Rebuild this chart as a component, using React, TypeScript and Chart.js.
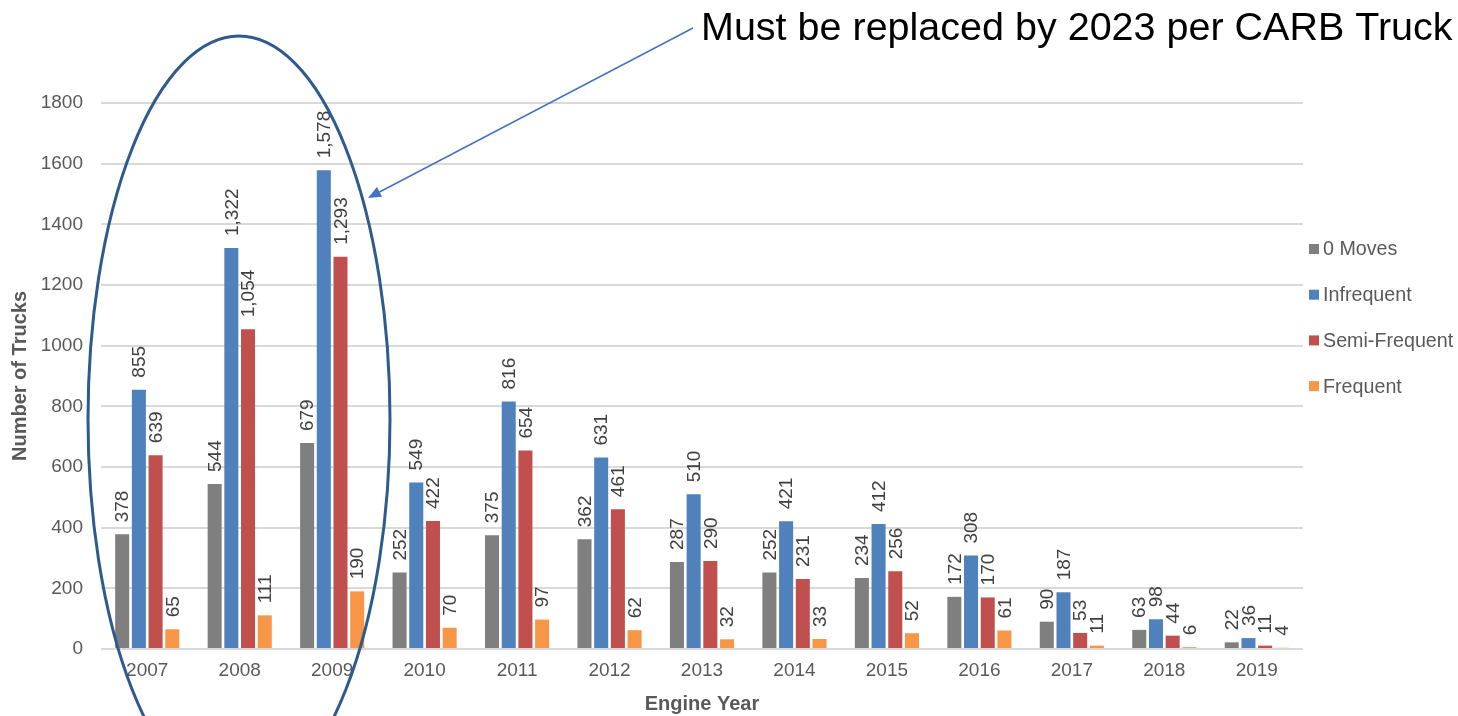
import React, { useEffect, useRef } from "react";
import { Chart, registerables } from "chart.js";

Chart.register(...registerables);

// Engine model years on the x axis
const years = ["2007", "2008", "2009", "2010", "2011", "2012", "2013", "2014", "2015", "2016", "2017", "2018", "2019"];

// Truck counts per visit-frequency group
const zeroMoves = [378, 544, 679, 252, 375, 362, 287, 252, 234, 172, 90, 63, 22];
const infrequent = [855, 1322, 1578, 549, 816, 631, 510, 421, 412, 308, 187, 98, 36];
const semiFrequent = [639, 1054, 1293, 422, 654, 461, 290, 231, 256, 170, 53, 44, 11];
const frequent = [65, 111, 190, 70, 97, 62, 32, 33, 52, 61, 11, 6, 4];

const seriesNames = ["0 Moves", "Infrequent", "Semi-Frequent", "Frequent"];
const seriesColors = ["#7F7F7F", "#4F81BD", "#C0504D", "#F79646"];

const yTicks = [0, 200, 400, 600, 800, 1000, 1200, 1400, 1600, 1800];

const calloutText = "Must be replaced by 2023 per CARB Truck";

const FONT = '"Liberation Sans", Arial, Helvetica, sans-serif';

// Rotated value labels above every bar
const barValueLabels = {
  id: "barValueLabels",
  afterDatasetsDraw(chart: any) {
    const ctx = chart.ctx;
    ctx.save();
    ctx.font = `19px ${FONT}`;
    ctx.fillStyle = "#404040";
    ctx.textAlign = "left";
    ctx.textBaseline = "middle";
    chart.data.datasets.forEach((ds: any, di: number) => {
      const meta = chart.getDatasetMeta(di);
      meta.data.forEach((bar: any, i: number) => {
        const v = ds.data[i] as number;
        ctx.save();
        ctx.translate(bar.x, bar.y - 12);
        ctx.rotate(-Math.PI / 2);
        ctx.fillText(v.toLocaleString("en-US"), 0, 1);
        ctx.restore();
      });
    });
    ctx.restore();
  },
};

// Legend stacked on the right side of the plot
const sideLegend = {
  id: "sideLegend",
  afterDraw(chart: any) {
    const ctx = chart.ctx;
    const x = chart.chartArea.right + 6;
    const y0 = 249;
    const step = 45.7;
    ctx.save();
    ctx.font = `19.7px ${FONT}`;
    ctx.textBaseline = "middle";
    ctx.textAlign = "left";
    chart.data.datasets.forEach((ds: any, i: number) => {
      const y = y0 + i * step;
      ctx.fillStyle = ds.backgroundColor;
      ctx.fillRect(x, y - 5, 10, 10);
      ctx.fillStyle = "#595959";
      ctx.fillText(ds.label, x + 14, y + 1);
    });
    ctx.restore();
  },
};

// Callout: ellipse around the oldest engine years, arrow and note
const callout = {
  id: "callout",
  afterDraw(chart: any) {
    const ctx = chart.ctx;
    ctx.save();
    // note text
    ctx.font = `39.5px ${FONT}`;
    ctx.fillStyle = "#000000";
    ctx.textAlign = "left";
    ctx.textBaseline = "alphabetic";
    ctx.fillText(calloutText, 701, 40);

    // arrow
    const sx = 693, sy = 28, tx = 368, ty = 198;
    ctx.strokeStyle = "#4472C4";
    ctx.fillStyle = "#4472C4";
    ctx.lineWidth = 1.5;
    const ang = Math.atan2(ty - sy, tx - sx);
    const headLen = 13;
    const headHalf = 5.5;
    const bx = tx - headLen * Math.cos(ang);
    const by = ty - headLen * Math.sin(ang);
    ctx.beginPath();
    ctx.moveTo(sx, sy);
    ctx.lineTo(bx, by);
    ctx.stroke();
    ctx.beginPath();
    ctx.moveTo(tx, ty);
    ctx.lineTo(bx + headHalf * Math.sin(ang), by - headHalf * Math.cos(ang));
    ctx.lineTo(bx - headHalf * Math.sin(ang), by + headHalf * Math.cos(ang));
    ctx.closePath();
    ctx.fill();

    // ellipse
    ctx.strokeStyle = "#2F5A8E";
    ctx.lineWidth = 3;
    ctx.beginPath();
    ctx.ellipse(239, 419, 151, 383, 0, 0, Math.PI * 2);
    ctx.stroke();
    ctx.restore();
  },
};

export default function App() {
  const canvasRef = useRef<HTMLCanvasElement | null>(null);

  useEffect(() => {
    if (!canvasRef.current) return;
    Chart.defaults.font.family = FONT;
    const series = [zeroMoves, infrequent, semiFrequent, frequent];
    const chart = new Chart(canvasRef.current, {
      type: "bar",
      data: {
        labels: years,
        datasets: series.map((values, i) => ({
          label: seriesNames[i],
          data: values,
          backgroundColor: seriesColors[i],
          borderWidth: 0,
          categoryPercentage: 0.7225,
          barPercentage: 0.84,
        })),
      },
      options: {
        animation: false,
        responsive: true,
        maintainAspectRatio: false,
        layout: { padding: { top: 103, right: 155, left: 0, bottom: 0 } },
        plugins: {
          legend: { display: false },
          tooltip: { enabled: false },
          title: { display: false },
        },
        scales: {
          x: {
            grid: { display: false, drawTicks: false },
            border: { display: false },
            ticks: { color: "#595959", font: { size: 19 }, padding: 10, maxRotation: 0 },
            title: {
              display: true,
              text: "Engine Year",
              color: "#595959",
              font: { size: 20, weight: "bold" },
              padding: { top: 0, bottom: 0 },
            },
            afterFit(scale: any) {
              scale.height = 67;
            },
          },
          y: {
            min: 0,
            max: 1800,
            afterBuildTicks(scale: any) {
              scale.ticks = yTicks.map((v) => ({ value: v }));
            },
            grid: { color: "#D9D9D9", lineWidth: 2, drawTicks: false },
            border: { display: false },
            ticks: {
              color: "#595959",
              font: { size: 19 },
              padding: 18,
              callback: (value: any) => String(value),
            },
            title: {
              display: true,
              text: "Number of Trucks",
              color: "#595959",
              font: { size: 20, weight: "bold" },
              padding: { top: 8, bottom: 0 },
            },
            afterFit(scale: any) {
              scale.width = 101;
            },
          },
        },
      },
      plugins: [barValueLabels, sideLegend, callout],
    });
    return () => chart.destroy();
  }, []);

  return (
    <div style={{ position: "absolute", left: 0, top: 0, width: "1458px", height: "716px", background: "#fff" }}>
      <canvas ref={canvasRef} />
    </div>
  );
}
